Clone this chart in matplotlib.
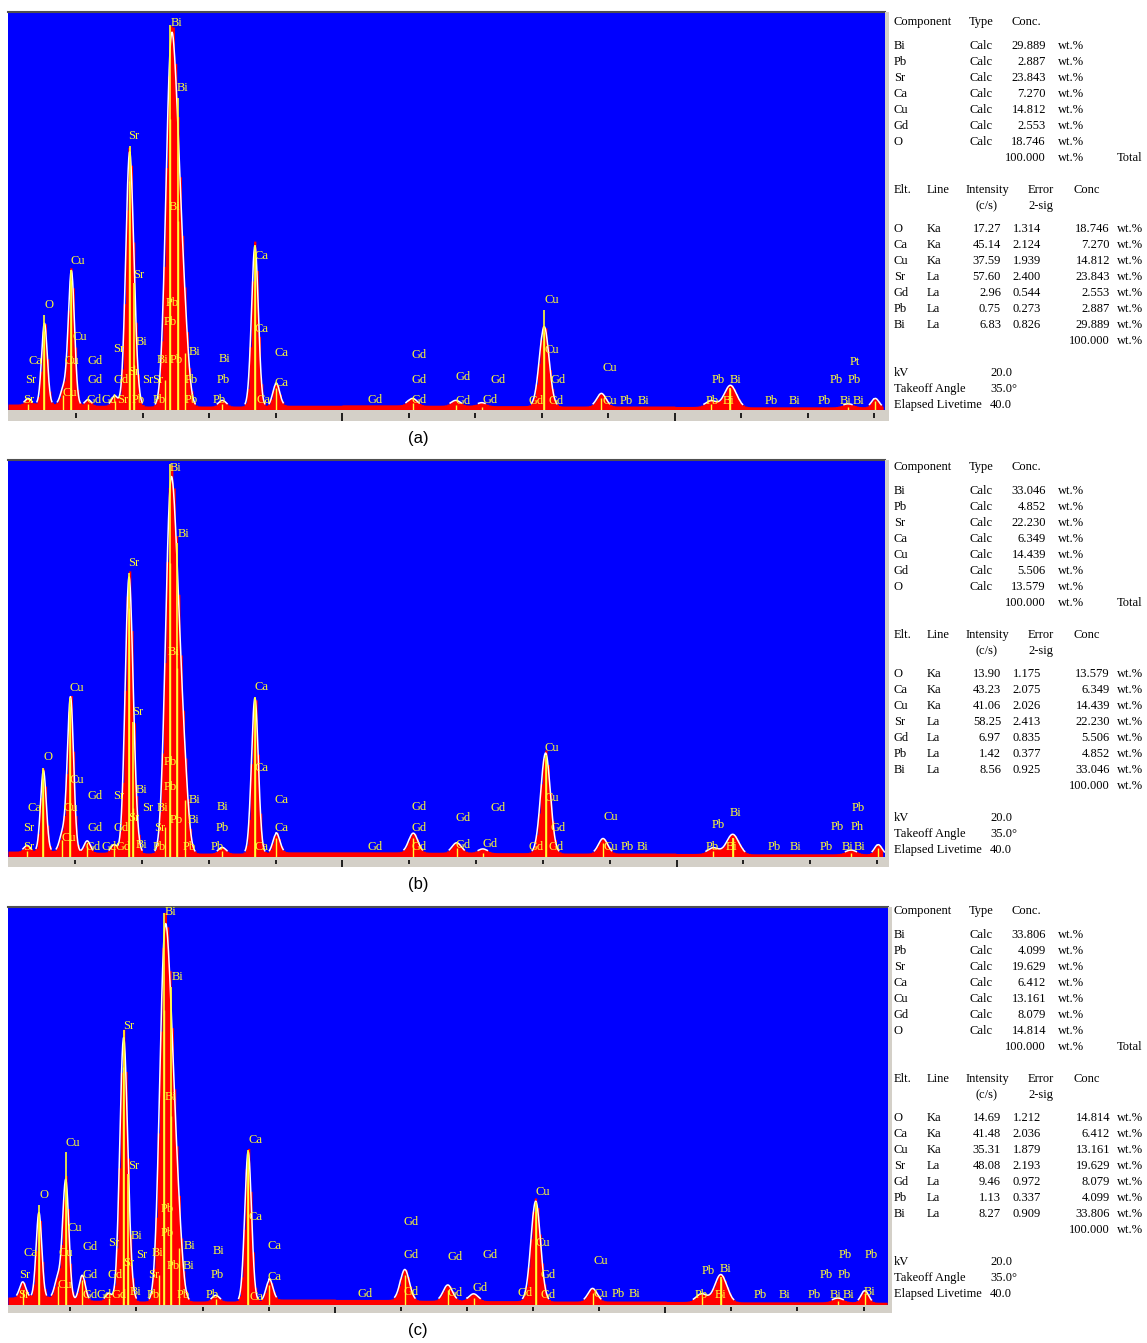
import numpy as np
import matplotlib.pyplot as plt

W, H = 1147, 1343

# fitted lines (keV) and their widths (FWHM, keV)
peak_kev = [0.28, 0.525, 0.81, 0.93, 1.18, 1.58, 1.80, 1.87, 2.345, 2.42, 2.53, 2.64,
            3.20, 3.69, 4.01, 6.06, 6.71, 7.10, 8.04, 8.90, 10.55, 10.84, 12.61, 13.02]
peak_fwhm = [0.11, 0.10, 0.11, 0.11, 0.11, 0.11, 0.13, 0.12, 0.14, 0.16, 0.16, 0.14,
             0.13, 0.12, 0.12, 0.16, 0.16, 0.16, 0.17, 0.16, 0.19, 0.21, 0.19, 0.13]

# peak heights, % of full scale
a_heights = [1.5, 21.0, 4.0, 34.5, 1.5, 2.5, 60.6, 12.0, 8.0, 77.0, 50.0, 15.0,
             1.5, 41.5, 5.8, 1.8, 1.3, 0.8, 20.6, 3.3, 1.5, 5.5, 0.8, 2.3]
b_heights = [1.5, 21.0, 4.5, 40.0, 3.0, 2.0, 66.0, 13.0, 8.0, 78.0, 50.0, 15.0,
             1.5, 40.3, 5.0, 5.0, 2.5, 1.0, 26.0, 3.8, 1.5, 5.0, 1.0, 2.5]
c_heights = [4.0, 22.0, 5.0, 30.4, 6.5, 1.8, 63.0, 12.0, 8.0, 78.0, 50.0, 15.0,
             1.5, 38.7, 5.3, 8.0, 4.0, 1.8, 25.9, 3.3, 2.0, 7.0, 1.0, 3.0]

# continuum, % per 1 keV bin (0..13 keV)
a_background = [1.5, 1.2, 1.0, 1.0, 1.2, 1.3, 1.2, 1.1, 1.0, 1.0, 0.9, 0.8, 0.8, 0.7]
b_background = [1.5, 1.2, 1.0, 1.0, 1.3, 1.3, 1.2, 1.1, 1.0, 1.0, 0.9, 0.8, 0.8, 0.7]
c_background = [2.0, 1.2, 1.0, 1.0, 1.5, 1.4, 1.2, 1.1, 1.0, 1.0, 0.9, 0.8, 0.8, 0.7]

# KLM marker lines
marker_kev = [0.525, 0.93, 1.806, 1.87, 2.42, 2.53, 3.69, 8.04, 10.84]
a_marker_top = [23.9, 35.2, 66.3, 31.9, 96.7, 78.4, 41.5, 25.1, 5.5]
b_marker_top = [22.4, 40.0, 71.5, 34.0, 99.0, 79.0, 40.3, 25.7, 4.8]
c_marker_top = [25.1, 38.4, 69.0, 33.0, 98.5, 80.0, 39.0, 25.9, 7.0]

# element labels (text, keV, height %)
a_labels = [("Bi", 2.43, 97.2), ("Bi", 2.52, 80.9), ("Sr", 1.78, 68.8), ("Bi", 2.40, 51.0),
            ("Cu", 0.92, 37.4), ("Ca", 3.69, 38.7), ("Sr", 1.86, 33.9), ("O", 0.52, 26.4),
            ("Pb", 2.35, 26.9), ("Pb", 2.32, 22.1), ("Ca", 3.69, 20.4), ("Cu", 0.95, 18.3),
            ("Sr", 1.56, 15.3), ("Bi", 1.90, 17.1), ("Bi", 2.70, 14.6), ("Ca", 3.99, 14.3),
            ("Bi", 3.15, 12.8), ("Ca", 0.29, 12.3), ("Cu", 0.82, 12.3), ("Gd", 1.18, 12.3),
            ("Bi", 2.22, 12.6), ("Pb", 2.41, 12.6), ("Sr", 0.23, 7.5), ("Gd", 1.18, 7.5),
            ("Gd", 1.56, 7.5), ("Sr", 1.78, 9.5), ("Sr", 1.99, 7.5), ("Sr", 2.14, 7.5),
            ("Pb", 2.64, 7.5), ("Pb", 3.12, 7.5), ("Ca", 3.99, 6.8), ("Sr", 0.20, 2.5),
            ("Cu", 0.80, 4.3), ("Gd", 1.15, 2.5), ("Gd", 1.39, 2.5), ("Sr", 1.62, 2.5),
            ("Pb", 1.83, 2.5), ("Pb", 2.16, 2.5), ("Pb", 2.64, 2.5), ("Pb", 3.05, 2.5),
            ("Ca", 3.72, 2.5), ("Gd", 5.38, 2.5), ("Gd", 6.05, 13.8), ("Gd", 6.05, 7.5),
            ("Gd", 6.05, 2.5), ("Gd", 6.70, 8.3), ("Gd", 6.70, 2.3), ("Gd", 7.23, 7.5),
            ("Gd", 7.11, 2.5), ("Cu", 8.05, 27.6), ("Cu", 8.05, 15.1), ("Gd", 8.13, 7.5),
            ("Gd", 7.80, 2.3), ("Gd", 8.10, 2.3), ("Cu", 8.91, 10.6), ("Cu", 8.91, 2.3),
            ("Pb", 9.18, 2.3), ("Bi", 9.44, 2.3), ("Pb", 10.56, 7.5), ("Bi", 10.83, 7.5),
            ("Pb", 10.47, 2.3), ("Bi", 10.73, 2.3), ("Pb", 11.36, 2.3), ("Bi", 11.71, 2.3),
            ("Pb", 12.16, 2.3), ("Bi", 12.49, 2.3), ("Bi", 12.68, 2.3), ("Pb", 12.34, 7.5),
            ("Pb", 12.61, 7.5), ("Pt", 12.64, 12.1)]
b_labels = [("Bi", 2.42, 98.0), ("Bi", 2.53, 81.4), ("Sr", 1.79, 74.1), ("Bi", 2.39, 51.6),
            ("Cu", 0.91, 42.6), ("Ca", 3.68, 42.8), ("Sr", 1.86, 36.5), ("O", 0.52, 25.2),
            ("Pb", 2.33, 23.9), ("Pb", 2.33, 17.6), ("Ca", 3.68, 22.4), ("Cu", 0.92, 19.4),
            ("Gd", 1.18, 15.4), ("Sr", 1.57, 15.4), ("Bi", 1.91, 16.9), ("Bi", 2.70, 14.4),
            ("Bi", 3.12, 12.6), ("Ca", 3.99, 14.4), ("Ca", 0.28, 12.3), ("Cu", 0.82, 12.3),
            ("Sr", 2.00, 12.3), ("Bi", 2.22, 12.3), ("Pb", 2.42, 9.3), ("Bi", 2.69, 9.3),
            ("Sr", 0.22, 7.3), ("Gd", 1.18, 7.3), ("Gd", 1.57, 7.3), ("Sr", 1.79, 9.8),
            ("Sr", 2.18, 7.3), ("Pb", 3.11, 7.3), ("Ca", 3.99, 7.3), ("Sr", 0.22, 2.5),
            ("Cu", 0.80, 4.8), ("Gd", 1.16, 2.5), ("Gd", 1.40, 2.5), ("Gd", 1.60, 2.5),
            ("Bi", 1.90, 3.0), ("Pb", 2.16, 2.5), ("Pb", 2.61, 2.5), ("Pb", 3.03, 2.5),
            ("Ca", 3.69, 2.5), ("Gd", 5.37, 2.5), ("Gd", 6.03, 12.6), ("Gd", 6.03, 7.3),
            ("Gd", 6.03, 2.5), ("Gd", 6.69, 9.8), ("Gd", 6.69, 3.0), ("Gd", 7.21, 12.3),
            ("Gd", 7.09, 3.3), ("Cu", 8.03, 27.5), ("Cu", 8.03, 14.9), ("Gd", 8.11, 7.3),
            ("Gd", 7.78, 2.5), ("Gd", 8.08, 2.5), ("Cu", 8.90, 10.1), ("Cu", 8.90, 2.5),
            ("Pb", 9.16, 2.5), ("Bi", 9.41, 2.5), ("Pb", 10.53, 8.1), ("Bi", 10.80, 11.1),
            ("Pb", 10.44, 2.5), ("Bi", 10.73, 2.5), ("Pb", 11.36, 2.5), ("Bi", 11.70, 2.5),
            ("Pb", 12.14, 2.5), ("Bi", 12.47, 2.5), ("Bi", 12.65, 2.5), ("Pb", 12.30, 7.6),
            ("Ph", 12.60, 7.6), ("Pb", 12.62, 12.3)]
c_labels = [("Bi", 2.43, 98.7), ("Bi", 2.54, 82.4), ("Sr", 1.80, 70.1), ("Bi", 2.43, 52.3),
            ("Cu", 0.92, 40.7), ("Ca", 3.69, 41.5), ("Sr", 1.87, 34.9), ("O", 0.53, 27.6),
            ("Pb", 2.37, 24.1), ("Pb", 2.36, 18.1), ("Ca", 3.69, 22.1), ("Cu", 0.95, 19.3),
            ("Gd", 1.19, 14.6), ("Sr", 1.57, 15.6), ("Bi", 1.92, 17.3), ("Bi", 2.72, 14.8),
            ("Bi", 3.15, 13.6), ("Ca", 3.99, 14.8), ("Ca", 0.29, 13.1), ("Cu", 0.82, 13.1),
            ("Sr", 2.00, 12.6), ("Bi", 2.23, 13.1), ("Pb", 2.45, 9.8), ("Bi", 2.70, 9.8),
            ("Sr", 0.22, 7.5), ("Gd", 1.19, 7.5), ("Gd", 1.56, 7.5), ("Sr", 1.80, 10.6),
            ("Sr", 2.18, 7.5), ("Pb", 3.13, 7.5), ("Ca", 3.99, 7.0), ("Sr", 0.21, 2.5),
            ("Cu", 0.80, 5.0), ("Gd", 1.19, 2.5), ("Gd", 1.40, 2.5), ("Gd", 1.63, 2.5),
            ("Bi", 1.90, 3.3), ("Pb", 2.16, 2.5), ("Pb", 2.61, 2.5), ("Pb", 3.04, 2.5),
            ("Ca", 3.71, 2.0), ("Gd", 5.35, 2.8), ("Gd", 6.04, 20.9), ("Gd", 6.04, 12.6),
            ("Gd", 6.04, 3.3), ("Gd", 6.70, 12.1), ("Gd", 6.70, 3.0), ("Gd", 7.23, 12.6),
            ("Gd", 7.09, 4.3), ("Cu", 8.03, 28.4), ("Cu", 8.03, 15.6), ("Gd", 8.11, 7.5),
            ("Gd", 7.77, 3.0), ("Gd", 8.11, 2.5), ("Cu", 8.91, 11.1), ("Cu", 8.91, 2.8),
            ("Pb", 9.19, 2.8), ("Bi", 9.44, 2.8), ("Pb", 10.55, 8.5), ("Bi", 10.83, 9.0),
            ("Pb", 10.45, 2.5), ("Bi", 10.75, 2.5), ("Pb", 11.34, 2.5), ("Bi", 11.71, 2.5),
            ("Pb", 12.16, 2.5), ("Bi", 12.49, 2.5), ("Bi", 12.69, 2.5), ("Pb", 12.33, 7.5),
            ("Pb", 12.61, 7.5), ("Pb", 12.63, 12.6), ("Pb", 13.02, 12.6), ("Bi", 13.00, 3.3)]

# quantitative results
components = ["Bi", "Pb", "Sr", "Ca", "Cu", "Gd", "O"]
a_conc = [29.889, 2.887, 23.843, 7.270, 14.812, 2.553, 18.746]
b_conc = [33.046, 4.852, 22.230, 6.349, 14.439, 5.506, 13.579]
c_conc = [33.806, 4.099, 19.629, 6.412, 13.161, 8.079, 14.814]
total_conc = 100.000
elements = ["O", "Ca", "Cu", "Sr", "Gd", "Pb", "Bi"]
lines = ["Ka", "Ka", "Ka", "La", "La", "La", "La"]
a_intensity = [17.27, 45.14, 37.59, 57.60, 2.96, 0.75, 6.83]
b_intensity = [13.90, 43.23, 41.06, 58.25, 6.97, 1.42, 8.56]
c_intensity = [14.69, 41.48, 35.31, 48.08, 9.46, 1.13, 8.27]
a_error = [1.314, 2.124, 1.939, 2.400, 0.544, 0.273, 0.826]
b_error = [1.175, 2.075, 2.026, 2.413, 0.835, 0.377, 0.925]
c_error = [1.212, 2.036, 1.879, 2.193, 0.972, 0.337, 0.909]
a_elt_conc = [18.746, 7.270, 14.812, 23.843, 2.553, 2.887, 29.889]
b_elt_conc = [13.579, 6.349, 14.439, 22.230, 5.506, 4.852, 33.046]
c_elt_conc = [14.814, 6.412, 13.161, 19.629, 8.079, 4.099, 33.806]

BLUE = "#0000ff"
RED = "#ff0000"
YELLOW = "#ffff33"
GRAY = "#d4d0c8"
SERIF = ["Liberation Serif", "DejaVu Serif"]

fig = plt.figure(figsize=(W / 100, H / 100), dpi=100)


def px_axes(left, top, right, bottom):
    return fig.add_axes([left / W, 1 - bottom / H, (right - left) / W, (bottom - top) / H])


def fig_text(x, y, s, **kw):
    fig.text(x / W, 1 - y / H, s, **kw)


def spectrum(x, heights, background):
    peaks = np.zeros_like(x)
    for c, w, h in zip(peak_kev, peak_fwhm, heights):
        peaks += h * np.exp(-4 * np.log(2) * (x - c) ** 2 / w ** 2)
    bg = np.array(background)[np.clip(x.astype(int), 0, len(background) - 1)]
    return peaks, peaks + bg


def draw_panel(box, xlim, heights, background, markers, labels, caption):
    left, top, right, base, strip = box
    ax = px_axes(left, top, right, base)
    ax.set_facecolor(BLUE)

    x = np.arange(xlim[0], xlim[1], 0.035)
    _, y = spectrum(x, heights, background)
    ax.fill_between(x, y, step="mid", color=RED, lw=0)

    xs = np.linspace(xlim[0], xlim[1], 3000)
    pk, ys = spectrum(xs, heights, background)
    ax.plot(xs, np.where(pk > 0.6, ys * 0.97, np.nan), color="white", lw=1.1)

    ax.vlines(peak_kev, 0, np.array(heights) * 0.95, color=YELLOW, lw=1.0)
    ax.vlines(marker_kev, 0, markers, color=YELLOW, lw=1.2)

    for s, k, h in labels:
        ax.text(k, h, s, color=YELLOW, fontsize=9, family=SERIF,
                ha="left", va="center", clip_on=True)

    ax.set_xlim(*xlim)
    ax.set_ylim(0, 100)
    ax.set_xticks([])
    ax.set_yticks([])
    for side in ["left", "right", "bottom"]:
        ax.spines[side].set_visible(False)
    ax.spines["top"].set_color("#505050")
    ax.spines["top"].set_linewidth(1.5)

    # energy scale strip
    sx = px_axes(left, base, right, strip)
    sx.set_facecolor(GRAY)
    sx.set_xlim(*xlim)
    sx.set_ylim(0, 1)
    ticks = np.arange(1, 14)
    long_tick = ticks % 5 == 0
    sx.vlines(ticks[~long_tick], 0.27, 0.75, color="black", lw=1.2)
    sx.vlines(ticks[long_tick], 0.0, 0.75, color="black", lw=1.2)
    sx.set_xticks([])
    sx.set_yticks([])
    for sp in sx.spines.values():
        sp.set_visible(False)

    # window border on the right
    bx = px_axes(right, top, right + 4, strip)
    bx.set_facecolor(GRAY)
    bx.set_xticks([])
    bx.set_yticks([])
    for sp in bx.spines.values():
        sp.set_visible(False)

    fig_text(418, strip + 17, caption, ha="center", va="center", fontsize=12,
             family=["Liberation Sans", "DejaVu Sans"])


def draw_table(top, conc, intensity, error, elt_conc):
    kw = dict(fontsize=9, family=SERIF, va="center", color="black")
    fig_text(894, top + 10, "Component", **kw)
    fig_text(969, top + 10, "Type", **kw)
    fig_text(1011, top + 10, "Conc.", **kw)
    for i, (name, val) in enumerate(zip(components, conc)):
        yy = top + 34 + 16 * i
        fig_text(894, yy, name, **kw)
        fig_text(969, yy, "Calc", **kw)
        fig_text(1046, yy, f"{val:.3f}", ha="right", **kw)
        fig_text(1058, yy, "wt.%", **kw)
    fig_text(1046, top + 146, f"{total_conc:.3f}", ha="right", **kw)
    fig_text(1058, top + 146, "wt.%", **kw)
    fig_text(1117, top + 146, "Total", **kw)

    fig_text(894, top + 178, "Elt.", **kw)
    fig_text(927, top + 178, "Line", **kw)
    fig_text(966, top + 178, "Intensity", **kw)
    fig_text(1028, top + 178, "Error", **kw)
    fig_text(1073, top + 178, "Conc", **kw)
    fig_text(975, top + 194, "(c/s)", **kw)
    fig_text(1028, top + 194, "2-sig", **kw)
    for i in range(len(elements)):
        yy = top + 217 + 16 * i
        fig_text(894, yy, elements[i], **kw)
        fig_text(927, yy, lines[i], **kw)
        fig_text(1001, yy, f"{intensity[i]:.2f}", ha="right", **kw)
        fig_text(1041, yy, f"{error[i]:.3f}", ha="right", **kw)
        fig_text(1110, yy, f"{elt_conc[i]:.3f}", ha="right", **kw)
        fig_text(1117, yy, "wt.%", **kw)
    fig_text(1110, top + 329, f"{total_conc:.3f}", ha="right", **kw)
    fig_text(1117, top + 329, "wt.%", **kw)

    fig_text(894, top + 361, "kV", **kw)
    fig_text(990, top + 361, "20.0", **kw)
    fig_text(894, top + 377, "Takeoff Angle", **kw)
    fig_text(990, top + 377, "35.0°", **kw)
    fig_text(894, top + 393, "Elapsed Livetime", **kw)
    fig_text(990, top + 393, "40.0", **kw)


draw_panel((8, 12, 885, 410, 421), (-0.023, 13.165), a_heights, a_background,
           a_marker_top, a_labels, "(a)")
draw_panel((8, 460, 885, 857, 867), (-0.005, 13.12), b_heights, b_background,
           b_marker_top, b_labels, "(b)")
draw_panel((8, 907, 888, 1305, 1313), (0.057, 13.37), c_heights, c_background,
           c_marker_top, c_labels, "(c)")

draw_table(12, a_conc, a_intensity, a_error, a_elt_conc)
draw_table(457, b_conc, b_intensity, b_error, b_elt_conc)
draw_table(901, c_conc, c_intensity, c_error, c_elt_conc)

fig.savefig("out.png", dpi=100, facecolor="white")
